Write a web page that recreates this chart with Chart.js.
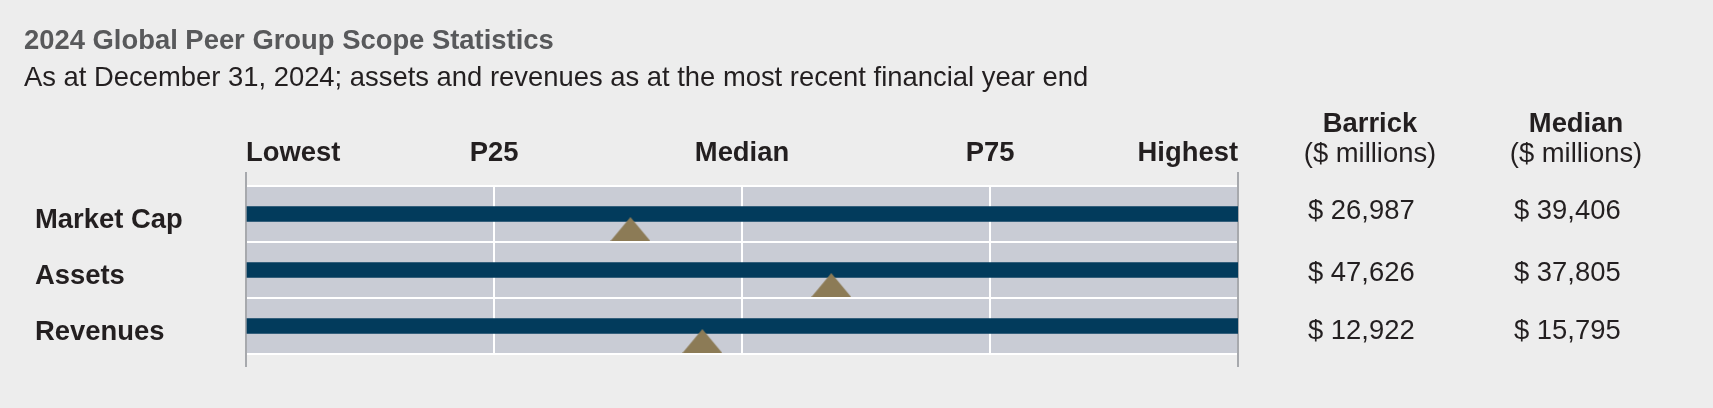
<!DOCTYPE html>
<html lang="en">
<head>
<meta charset="UTF-8" />
<title>2024 Global Peer Group Scope Statistics</title>
<script src="https://cdn.jsdelivr.net/npm/chart.js"></script>
<style>
    body {
        margin: 0;
        background: #ededed;
        font-family: "Liberation Sans", Arial, Helvetica, sans-serif;
        color: #231f20;
    }
    #page {
        position: relative;
        width: 1713px;
        height: 408px;
        overflow: hidden;
    }
    #chart {
        position: absolute;
        left: 0;
        top: 0;
    }
    .txt {
        position: absolute;
        font-size: 27.4px;
        line-height: 30px;
        white-space: nowrap;
    }
    .title { font-weight: bold; color: #58595b; }
    .head { text-align: center; width: 220px; }
    .head b { font-weight: bold; }
</style>
</head>
<body>

<div id="page">
    <canvas id="chart" width="1713" height="408"></canvas>
    <div class="txt title" style="left:24px; top:25px;">2024 Global Peer Group Scope Statistics</div>
    <div class="txt" style="left:24px; top:62px;">As at December 31, 2024; assets and revenues as at the most recent financial year end</div>
    <div id="table"></div>
</div>

<script>
    // rows, top to bottom
    const rowLabels = ['Market Cap', 'Assets', 'Revenues'];
    // scale positions: 0 = lowest ... 4 = highest
    const scaleLabels = ['Lowest', 'P25', 'Median', 'P75', 'Highest'];
    const peerLow = [0, 0, 0];
    const peerHigh = [4, 4, 4];
    // where Barrick sits on the peer range
    const barrickPosition = [1.55, 2.36, 1.84];

    const columnHeads = ['Barrick', 'Median'];
    const barrickValues = ['$ 26,987', '$ 47,626', '$ 12,922'];
    const medianValues = ['$ 39,406', '$ 37,805', '$ 15,795'];

    const BAND = '#c9ccd5';
    const BAR = '#023b5c';
    const MARKER = '#8c7b56';
    const EDGE = '#a7a9ad';
    const INK = '#231f20';
    const FONT = '"Liberation Sans", Arial, Helvetica, sans-serif';

    // triangle marker (wider than tall, so drawn as an image)
    const tri = document.createElement('canvas');
    tri.width = 40;
    tri.height = 24;
    const tctx = tri.getContext('2d');
    tctx.fillStyle = MARKER;
    tctx.beginPath();
    tctx.moveTo(20, 0);
    tctx.lineTo(40, 24);
    tctx.lineTo(0, 24);
    tctx.closePath();
    tctx.fill();

    const bandFill = {
        id: 'bandFill',
        beforeDraw(chart) {
            const { ctx, chartArea: a } = chart;
            ctx.save();
            ctx.fillStyle = BAND;
            ctx.fillRect(a.left, a.top, a.right - a.left, a.bottom - a.top);
            ctx.restore();
        }
    };

    const isEdge = v => v === 0 || v === scaleLabels.length - 1;

    new Chart(document.getElementById('chart'), {
        type: 'scatter',
        data: {
            datasets: [
                {
                    label: 'Barrick',
                    order: 0,
                    data: barrickPosition.map((v, i) => ({ x: v, y: i + 0.27 })),
                    pointStyle: tri,
                    pointRadius: 20,
                    xAxisID: 'x',
                    yAxisID: 'y'
                },
                {
                    type: 'bar',
                    label: 'Peer range',
                    order: 1,
                    indexAxis: 'y',
                    data: rowLabels.map((r, i) => ({ x: [peerLow[i], peerHigh[i]], y: i })),
                    backgroundColor: BAR,
                    borderWidth: 0,
                    barThickness: 15,
                    xAxisID: 'x',
                    yAxisID: 'y'
                }
            ]
        },
        options: {
            responsive: false,
            animation: false,
            events: [],
            layout: {
                padding: { top: 138, left: 35, right: 475, bottom: 41 }
            },
            plugins: {
                legend: { display: false },
                tooltip: { enabled: false }
            },
            scales: {
                x: {
                    type: 'linear',
                    position: 'top',
                    min: 0,
                    max: 4,
                    offset: false,
                    afterFit: s => { s.height = 48; },
                    border: { display: false },
                    grid: {
                        z: -1,
                        offset: false,
                        lineWidth: 2,
                        color: c => isEdge(c.tick.value) ? EDGE : '#ffffff',
                        tickColor: c => isEdge(c.tick.value) ? EDGE : 'rgba(0,0,0,0)',
                        tickLength: 14
                    },
                    ticks: {
                        stepSize: 1,
                        autoSkip: false,
                        maxRotation: 0,
                        align: 'inner',
                        padding: 2,
                        color: INK,
                        font: { family: FONT, size: 27.4, weight: 'bold' },
                        callback: v => scaleLabels[v]
                    }
                },
                x2: {
                    type: 'linear',
                    position: 'bottom',
                    min: 0,
                    max: 4,
                    offset: false,
                    afterFit: s => { s.height = 13; },
                    border: { display: false },
                    grid: {
                        drawOnChartArea: false,
                        lineWidth: 2,
                        tickColor: c => isEdge(c.tick.value) ? EDGE : 'rgba(0,0,0,0)',
                        tickLength: 13
                    },
                    ticks: { stepSize: 1, display: false }
                },
                y: {
                    type: 'linear',
                    position: 'left',
                    min: -0.5,
                    max: rowLabels.length - 0.5,
                    reverse: true,
                    offset: false,
                    afterFit: s => { s.width = 211; },
                    afterBuildTicks: s => { s.ticks = rowLabels.map((r, i) => ({ value: i })); },
                    border: { display: false },
                    grid: {
                        z: -2,
                        offset: true,
                        lineWidth: 2,
                        color: '#ffffff',
                        drawTicks: false
                    },
                    ticks: {
                        crossAlign: 'far',
                        labelOffset: 6.5,
                        color: INK,
                        font: { family: FONT, size: 27.4, weight: 'bold' },
                        callback: v => rowLabels[v]
                    }
                }
            }
        },
        plugins: [bandFill]
    });

    // value table to the right of the chart
    const table = document.getElementById('table');
    const valueTops = [195, 257, 315];
    const columns = [
        { head: columnHeads[0], values: barrickValues, center: 1370, left: 1308 },
        { head: columnHeads[1], values: medianValues, center: 1576, left: 1514 }
    ];
    columns.forEach(col => {
        const h = document.createElement('div');
        h.className = 'txt head';
        h.style.left = (col.center - 110) + 'px';
        h.style.top = '108px';
        h.innerHTML = '<b>' + col.head + '</b><br>($ millions)';
        table.appendChild(h);
        col.values.forEach((v, i) => {
            const d = document.createElement('div');
            d.className = 'txt';
            d.style.left = col.left + 'px';
            d.style.top = valueTops[i] + 'px';
            d.textContent = v;
            table.appendChild(d);
        });
    });
</script>

</body>
</html>
